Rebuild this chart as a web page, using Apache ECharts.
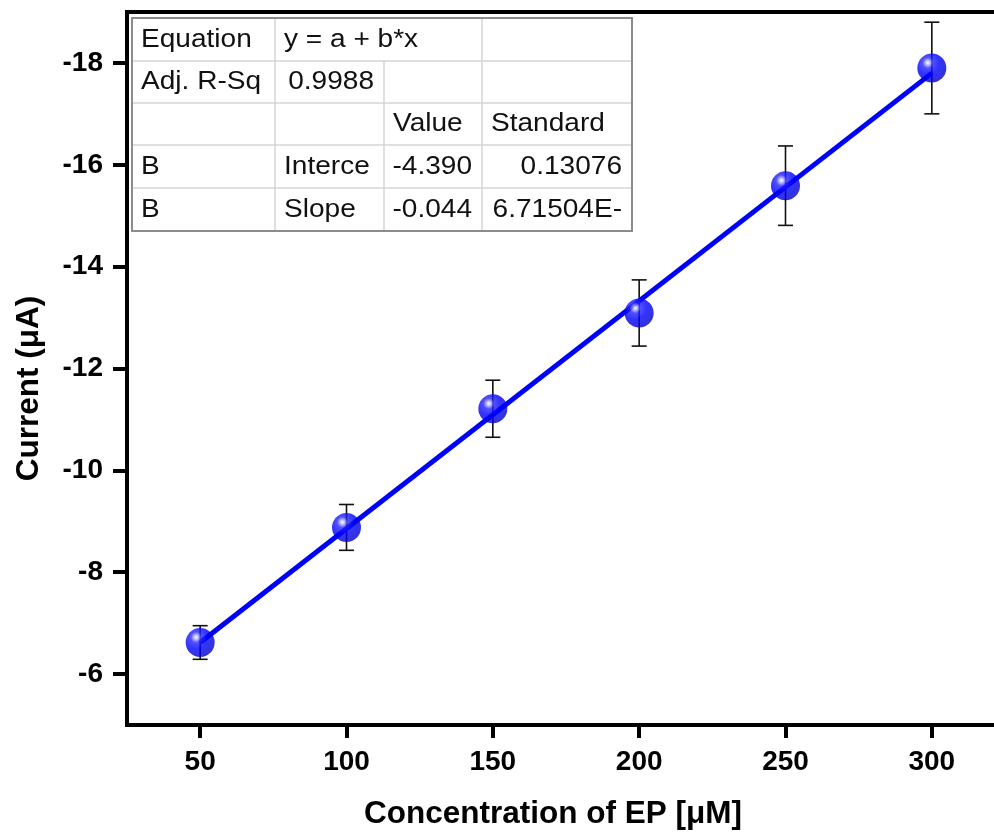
<!DOCTYPE html>
<html>
<head>
<meta charset="utf-8">
<script src="https://cdn.jsdelivr.net/npm/echarts@6.0.0/dist/echarts.min.js"></script>
<style>
  html, body { margin: 0; padding: 0; background: #fff; overflow: hidden; }
  #chart { width: 1010px; height: 835px; }
</style>
</head>
<body>
<div id="chart"></div>
<script>
// data
var concentration = [50, 100, 150, 200, 250, 300];
var current = [-6.62, -8.88, -11.21, -13.09, -15.59, -17.90];
var currentErr = [0.33, 0.45, 0.56, 0.65, 0.78, 0.90];
// linear fit line ends
var fitX = [50, 300];
var fitY = [-6.62, -17.80];
var xTicks = [50, 100, 150, 200, 250, 300];
var yTicks = [-6, -8, -10, -12, -14, -16, -18];
// fit result table (Origin style)
var tableRows = [
    ['Equation', 'y = a + b*x', null, ''],
    ['Adj. R-Sq', '0.9988', '', ''],
    ['', '', 'Value', 'Standard'],
    ['B', 'Interce', '-4.390', '0.13076'],
    ['B', 'Slope', '-0.044', '6.71504E-']
];

var FONT = '"Liberation Sans", Arial, sans-serif';

var chart = echarts.init(document.getElementById('chart'));

// scatter + error bars data
var points = concentration.map(function(x, i) { return [x, current[i]]; });
var bars = concentration.map(function(x, i) {
    return [x, current[i] - currentErr[i], current[i] + currentErr[i]];
});
var fitLine = fitX.map(function(x, i) { return [x, fitY[i]]; });

// table drawn with graphic elements
function buildTable() {
    var x0 = 132, y0 = 18;
    var cols = [0, 143, 252, 350, 500];
    var rows = [0, 43, 85, 127, 170, 213];
    var els = [];
    els.push({
        type: 'rect',
        shape: { x: x0, y: y0, width: cols[4], height: rows[5] },
        style: { fill: '#fff', stroke: null }
    });
    // inner horizontal lines
    for (var r = 1; r < rows.length - 1; r++) {
        els.push({
            type: 'line',
            shape: { x1: x0, y1: y0 + rows[r], x2: x0 + cols[4], y2: y0 + rows[r] },
            style: { stroke: '#d4d4d4', lineWidth: 1.5 }
        });
    }
    // inner vertical lines, first row has merged cell
    for (var c = 1; c < cols.length - 1; c++) {
        var top = (c === 2) ? rows[1] : 0;
        els.push({
            type: 'line',
            shape: { x1: x0 + cols[c], y1: y0 + top, x2: x0 + cols[c], y2: y0 + rows[5] },
            style: { stroke: '#d4d4d4', lineWidth: 1.5 }
        });
    }
    els.push({
        type: 'rect',
        shape: { x: x0, y: y0, width: cols[4], height: rows[5] },
        style: { fill: null, stroke: '#8c8c8c', lineWidth: 2 }
    });
    tableRows.forEach(function(row, ri) {
        row.forEach(function(txt, ci) {
            if (!txt) return;
            var isNum = /^-?\d/.test(txt);
            var cy = y0 + (rows[ri] + rows[ri + 1]) / 2;
            var tx = isNum ? x0 + cols[ci + 1] - 10 : x0 + cols[ci] + 9;
            els.push({
                type: 'text',
                x: tx,
                y: cy,
                scaleX: 1.1,
                style: {
                    text: txt,
                    fill: '#111',
                    font: '25.5px ' + FONT,
                    align: isNum ? 'right' : 'left',
                    verticalAlign: 'middle'
                }
            });
        });
    });
    return els;
}

chart.setOption({
    animation: false,
    backgroundColor: '#fff',
    grid: {
        left: 127, top: 12, width: 878, height: 715,
        show: true, borderColor: '#000', borderWidth: 4
    },
    xAxis: {
        type: 'value',
        min: 25, max: 325,
        name: 'Concentration of EP [μM]',
        nameLocation: 'middle',
        nameGap: 73,
        nameTextStyle: {
            color: '#000', fontSize: 31.5, fontWeight: 'bold', fontFamily: FONT,
            padding: [0, 26, 0, 0]
        },
        axisLine: { lineStyle: { color: '#000', width: 4 } },
        axisTick: {
            customValues: xTicks, length: 13, inside: false,
            lineStyle: { color: '#000', width: 4 }
        },
        axisLabel: {
            customValues: xTicks, margin: 23,
            color: '#000', fontSize: 28, fontWeight: 'bold', fontFamily: FONT
        },
        splitLine: { show: false }
    },
    yAxis: {
        type: 'value',
        min: -19, max: -5,
        inverse: true,
        name: 'Current (μA)',
        nameLocation: 'middle',
        nameRotate: 90,
        nameGap: 82,
        nameTextStyle: {
            color: '#000', fontSize: 31.5, fontWeight: 'bold', fontFamily: FONT,
            padding: [0, 40, 0, 0]
        },
        axisLine: { lineStyle: { color: '#000', width: 4 } },
        axisTick: {
            customValues: yTicks, length: 14, inside: false,
            lineStyle: { color: '#000', width: 4 }
        },
        axisLabel: {
            customValues: yTicks, margin: 24,
            color: '#000', fontSize: 28, fontWeight: 'bold', fontFamily: FONT
        },
        splitLine: { show: false }
    },
    graphic: { elements: buildTable() },
    series: [
        {
            type: 'custom',
            name: 'error',
            z: 2,
            data: bars,
            renderItem: function(params, api) {
                var x = api.value(0);
                var pLo = api.coord([x, api.value(1)]);
                var pHi = api.coord([x, api.value(2)]);
                var hw = 7.5;
                var st = { stroke: '#111', lineWidth: 1.6 };
                return {
                    type: 'group',
                    children: [
                        { type: 'line', shape: { x1: pLo[0], y1: pLo[1], x2: pHi[0], y2: pHi[1] }, style: st },
                        { type: 'line', shape: { x1: pLo[0] - hw, y1: pLo[1], x2: pLo[0] + hw, y2: pLo[1] }, style: st },
                        { type: 'line', shape: { x1: pHi[0] - hw, y1: pHi[1], x2: pHi[0] + hw, y2: pHi[1] }, style: st }
                    ]
                };
            }
        },
        {
            type: 'line',
            name: 'fit',
            z: 3,
            data: fitLine,
            symbol: 'none',
            lineStyle: { color: '#0000ff', width: 5 }
        },
        {
            type: 'scatter',
            name: 'B',
            z: 4,
            data: points,
            symbol: 'circle',
            symbolSize: 29,
            itemStyle: {
                color: {
                    type: 'radial', x: 0.36, y: 0.32, r: 0.72,
                    colorStops: [
                        { offset: 0, color: '#ffffff' },
                        { offset: 0.1, color: '#b4b4ff' },
                        { offset: 0.26, color: '#2424ff' },
                        { offset: 0.55, color: '#0000ff' },
                        { offset: 1, color: '#0000c4' }
                    ]
                }
            }
        }
    ]
});
</script>
</body>
</html>
